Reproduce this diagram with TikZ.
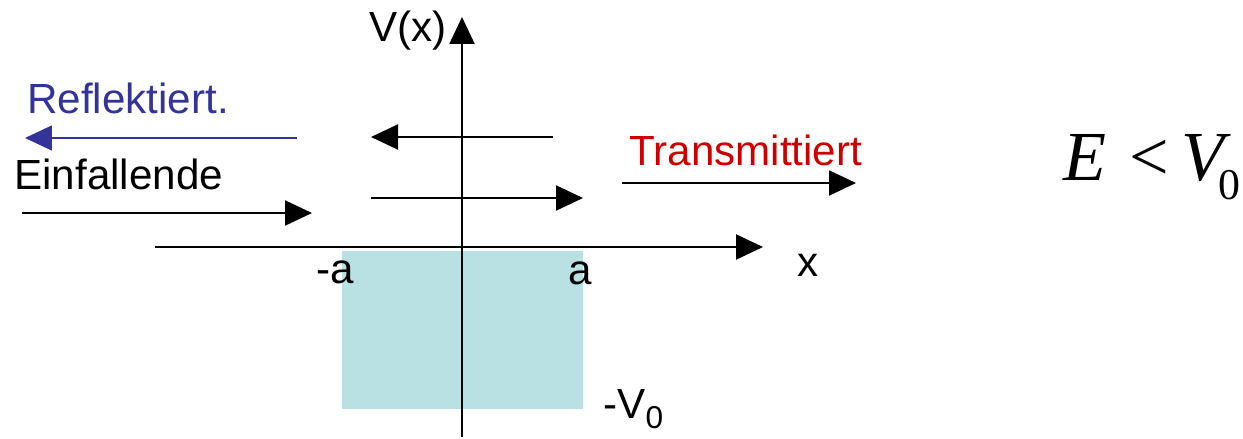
\documentclass[tikz,border=0pt]{standalone}
\usepackage{fontspec}
\setmainfont{Liberation Sans}
\newfontfamily\timesfont{Liberation Serif}
\usepackage{xcolor}
\definecolor{reflblue}{RGB}{51,51,153}
\definecolor{transred}{RGB}{204,0,0}
\definecolor{welltea}{RGB}{185,224,227}
\usetikzlibrary{arrows.meta}

\begin{document}
\begin{tikzpicture}[x=0.02cm,y=-0.02cm]
  \tikzstyle{wave}=[line width=1.2pt,-{Triangle[length=0.54cm,width=0.5cm]}]
  \tikzstyle{lbl}=[inner sep=0pt,font=\fontsize{24}{27}\selectfont]
  \useasboundingbox (0,0) rectangle (1243,439);
  % potential well
  \fill[welltea] (342,251) rectangle (583,409);
  % axes
  \coordinate (xl) at (155,247);
  \coordinate (xr) at (763,247);
  \coordinate (yb) at (462,437);
  \coordinate (yt) at (462,17);
  \draw[wave] (xl) -- (xr);
  \draw[wave] (yb) -- (yt);
  % waves
  \coordinate (inL) at (22,213);
  \coordinate (inR) at (312,213);
  \coordinate (refR) at (297,138);
  \coordinate (refL) at (25,138);
  \coordinate (midrL) at (553,137);
  \coordinate (midrR) at (371,137);
  \coordinate (midtL) at (371,198);
  \coordinate (midtR) at (583,198);
  \coordinate (trL) at (622,183);
  \coordinate (trR) at (856,183);
  \draw[wave] (inL) -- (inR);
  \draw[wave,reflblue,line width=0.9pt] (refR) -- (refL);
  \draw[wave] (midrL) -- (midrR);
  \draw[wave] (midtL) -- (midtR);
  \draw[wave] (trL) -- (trR);
  % labels
  \node[lbl,anchor=base east] (vx) at (447,42) {V(x)};
  \node[lbl,anchor=base west,text=reflblue] (refl) at (27,113) {Reflektiert.};
  \node[lbl,anchor=base west] (einf) at (14,189) {Einfallende};
  \node[lbl,anchor=base west,text=transred] (trans) at (629,165) {Transmittiert};
  \node[lbl,anchor=base west] (xlab) at (797,276) {x};
  \node[lbl,anchor=base west] (ma) at (316,283) {-a};
  \node[lbl,anchor=base west] (pa) at (568,284) {a};
  \node[lbl,anchor=base west] (mv) at (603,418) {-V\raisebox{-0.25em}{\fontsize{18}{20}\selectfont 0}};
  \node[inner sep=0pt,anchor=base west,font=\timesfont\fontsize{40}{44}\selectfont] (cond) at (1063,180)
    {\textit{E}\,\,<\,\textit{V}\kern-7pt\raisebox{-11pt}{\fontsize{25}{28}\selectfont 0}};
\end{tikzpicture}
\end{document}
